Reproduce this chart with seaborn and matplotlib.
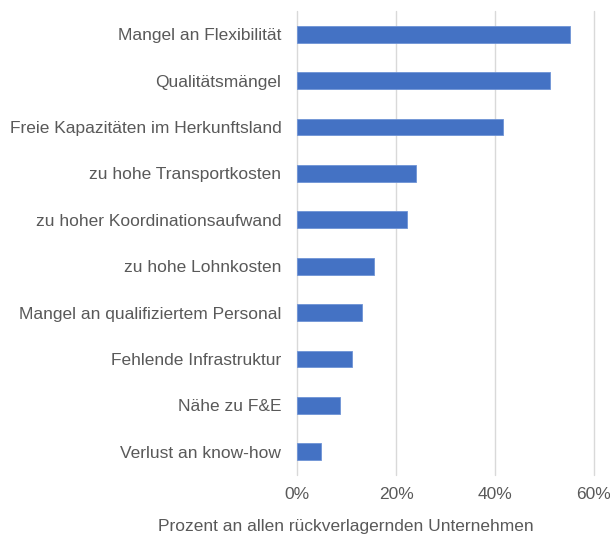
import matplotlib
matplotlib.use('Agg')
import matplotlib.pyplot as plt
import seaborn as sns
import pandas as pd
from matplotlib.ticker import PercentFormatter

# Gruende fuer Rueckverlagerung (Anteil in %)
categories = ['Mangel an Flexibilität', 'Qualitätsmängel', 'Freie Kapazitäten im Herkunftsland',
              'zu hohe Transportkosten', 'zu hoher Koordinationsaufwand', 'zu hohe Lohnkosten',
              'Mangel an qualifiziertem Personal', 'Fehlende Infrastruktur', 'Nähe zu F&E',
              'Verlust an know-how']
values = [55.1, 51.1, 41.7, 24.0, 22.3, 15.5, 13.0, 11.0, 8.6, 4.7]
xticks = [0, 20, 40, 60]

df = pd.DataFrame({'Grund': categories, 'Anteil': values})

sns.set_style('white')
plt.rcParams['font.family'] = ['Liberation Sans', 'DejaVu Sans']

fig = plt.figure(figsize=(6.1, 5.37), dpi=100)
ax = fig.add_axes([0.4874, 0.1155, 0.4859, 0.864])

sns.barplot(data=df, y='Grund', x='Anteil', orient='h', color='#4472C4',
            width=0.36, edgecolor='#6E93D6', linewidth=0.6, saturation=1, ax=ax, zorder=3)

ax.set_xlim(0, 60)
ax.set_xticks(xticks)
ax.xaxis.set_major_formatter(PercentFormatter(decimals=0))
ax.grid(axis='x', color='#D9D9D9', linewidth=1, zorder=0)
for gl in ax.get_xgridlines():
    gl.set_clip_on(False)
ax.set_axisbelow(True)
for s in ax.spines.values():
    s.set_visible(False)
ax.tick_params(axis='both', length=0, labelsize=12.5, colors='#595959')
ax.tick_params(axis='y', pad=11.5)
ax.tick_params(axis='x', pad=9)
ax.set_ylabel('')
ax.set_xlabel('')
fig.text(346 / 610, 1 - 527 / 537, 'Prozent an allen rückverlagernden Unternehmen',
         fontsize=12.5, color='#595959', ha='center', va='center')

fig.savefig('out.png', dpi=100)
